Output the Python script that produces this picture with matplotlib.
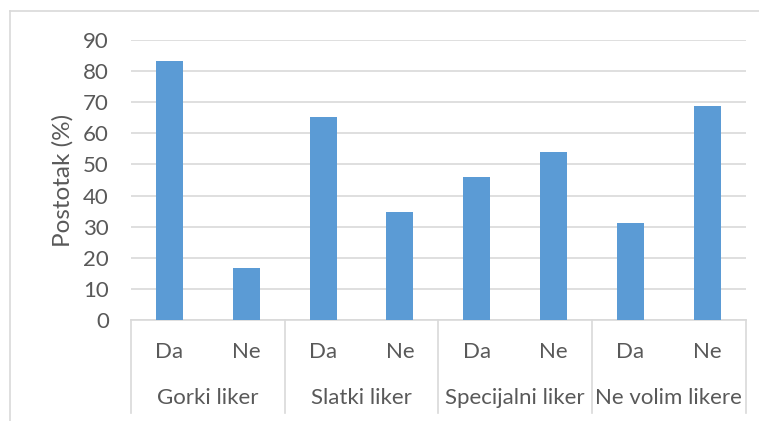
import numpy as np
import matplotlib
matplotlib.use("Agg")
import matplotlib.pyplot as plt
from matplotlib.lines import Line2D
import matplotlib.transforms as mtransforms

plt.rcParams['font.family'] = ['Lato', 'DejaVu Sans']

# data
groups = ['Gorki liker', 'Slatki liker', 'Specijalni liker', 'Ne volim likere']
answers = ['Da', 'Ne']
da_values = [83.3, 65.3, 46.1, 31.3]
ne_values = [16.7, 34.7, 53.9, 68.7]
yticks = [0, 10, 20, 30, 40, 50, 60, 70, 80, 90]

bar_color = '#5b9bd5'
text_color = '#595959'
grid_color = '#d9d9d9'

values = []
labels = []
for d, n in zip(da_values, ne_values):
    values += [d, n]
    labels += answers
x = np.arange(len(values))

fig = plt.figure(figsize=(7.59, 4.21), dpi=100)
ax = fig.add_axes([131 / 759, 101 / 421, (745.7 - 131) / 759, 280 / 421])

ax.bar(x, values, width=0.35, color=bar_color, zorder=3)
ax.set_xlim(-0.5, len(values) - 0.5)
ax.set_ylim(0, 90)
ax.set_yticks(yticks)
ax.tick_params(axis='y', length=0, pad=16, labelsize=16, labelcolor=text_color)
ax.set_xticks([])
ax.yaxis.grid(True, color=grid_color, linewidth=1.2, zorder=0)
ax.set_axisbelow(True)
for s in ['top', 'right', 'left']:
    ax.spines[s].set_visible(False)
ax.spines['bottom'].set_color(grid_color)
ax.spines['bottom'].set_linewidth(1.2)

ax.set_ylabel('Postotak (%)', fontsize=17.5, color=text_color, labelpad=7)

# multi-level category axis
trans = mtransforms.blended_transform_factory(ax.transData, ax.transAxes)
for xi, lab in zip(x, labels):
    ax.text(xi, -0.114, lab, transform=trans, ha='center', va='center',
            fontsize=16, color=text_color)
for i, g in enumerate(groups):
    ax.text(2 * i + 0.5, -0.279, g, transform=trans, ha='center', va='center',
            fontsize=16, color=text_color)
for b in np.arange(-0.5, len(values), 2):
    ax.add_line(Line2D([b, b], [0, -0.332], transform=trans, color=grid_color,
                       linewidth=1.2, clip_on=False))

# outer chart frame (cut off at right and bottom)
fig.add_artist(Line2D([10 / 759, 1], [1 - 11 / 421, 1 - 11 / 421],
                      transform=fig.transFigure, color=grid_color, linewidth=1.2))
fig.add_artist(Line2D([10 / 759, 10 / 759], [0, 1 - 11 / 421],
                      transform=fig.transFigure, color=grid_color, linewidth=1.2))

fig.savefig('out.png', dpi=100)
